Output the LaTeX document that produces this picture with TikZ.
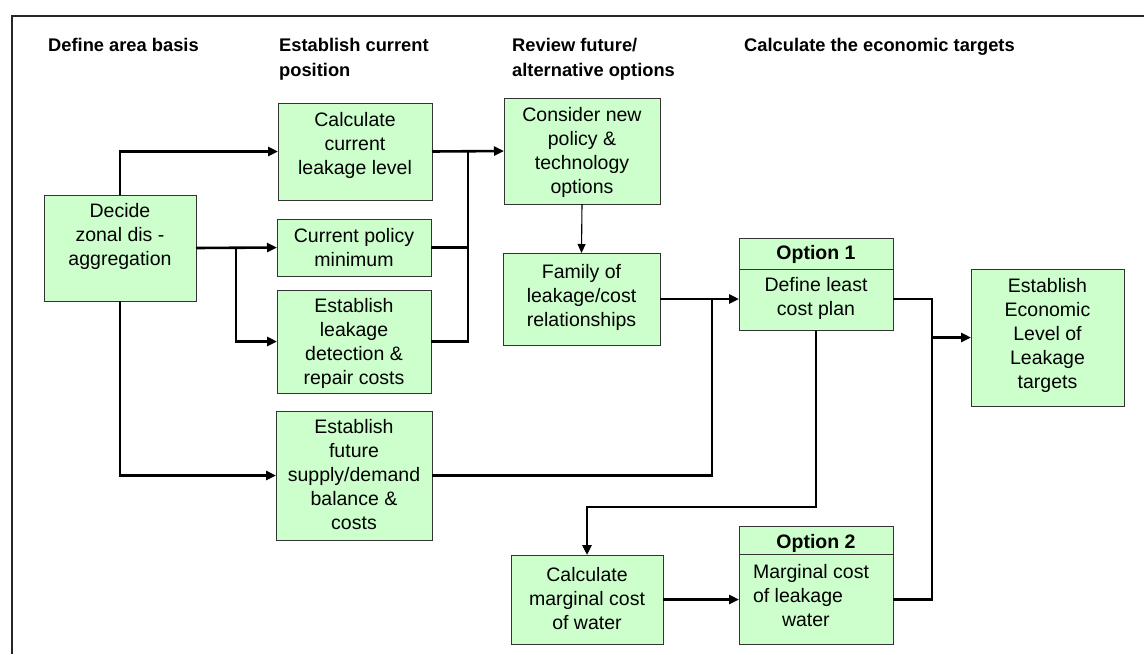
\documentclass[tikz,border=0pt]{standalone}
\usepackage{fontspec}
\setmainfont{Liberation Sans}
\usetikzlibrary{arrows.meta,calc}
\definecolor{boxfill}{HTML}{CCFFCC}
\definecolor{boxline}{HTML}{333333}
\newcommand{\bt}[4]{\parbox[c][#2pt][t]{#1pt}{\vspace*{#3pt}\centering #4}}
\tikzset{
  box/.style={draw=boxline, fill=boxfill, line width=1pt, inner sep=0pt, outer sep=0pt,
    font=\fontsize{19.5}{24}\selectfont},
  hdr/.style={inner sep=0pt, align=left, anchor=north west,
    font=\bfseries\fontsize{18.3}{25}\selectfont},
  wire/.style={line width=2.6pt, black},
  conn/.style={wire, -{Triangle[length=10pt,width=9pt]}},
  thinconn/.style={line width=1.1pt, black, -{Triangle[length=9pt,width=8pt]}},
  divider/.style={draw=boxline, line width=1pt}
}
\begin{document}
\begin{tikzpicture}[x=1pt,y=-1pt]
\useasboundingbox (0,0) rectangle (1144,654);
% frame
\draw[line width=1.3pt, black!85] (12,654) -- (12,16) -- (1144,16);

% headers
\node[hdr] (h1) at (48,38) {Define area basis};
\node[hdr] (h2) at (279,38) {Establish current\\position};
\node[hdr] (h3) at (512,38) {Review future/\\alternative options};
\node[hdr] (h4) at (744,38) {Calculate the economic targets};

% boxes
\node[box] (decide) at (120,248) {\bt{152}{106}{8}{Decide\\zonal dis -\\aggregation}};
\node[box] (calc) at (355,151.5) {\bt{154}{97}{9}{Calculate\\current\\leakage level}};
\node[box] (policy) at (354,247.5) {\bt{154}{57}{9}{Current policy\\minimum}};
\node[box] (detect) at (354,341.5) {\bt{154}{103}{8}{Establish\\leakage\\detection \&\\repair costs}};
\node[box] (future) at (354,475.5) {\bt{156}{129}{8}{Establish\\future\\supply/demand\\balance \&\\costs}};
\node[box] (consider) at (582,151) {\bt{156}{106}{9}{Consider new\\policy \&\\technology\\options}};
\node[box] (family) at (581.5,299) {\bt{157}{92}{11}{Family of\\leakage/cost\\relationships}};
\node[box] (opt1) at (816,284) {\parbox[c][92pt][t]{154pt}{\vspace*{7pt}\centering\textbf{Option 1}\par\vspace{8pt}Define least\\cost plan}};
\node[box] (ell) at (1047.5,337.5) {\bt{153}{137}{9}{Establish\\Economic\\Level of\\Leakage\\targets}};
\node[box] (calcmarg) at (587,599.5) {\bt{152}{89}{12}{Calculate\\marginal cost\\of water}};
\node[box] (opt2) at (816,585) {\parbox[c][118pt][t]{154pt}{\vspace*{8pt}\centering\textbf{Option 2}\par\vspace{6pt}\raggedright\leftskip=14pt Marginal cost\\of leakage\\\hspace*{29pt}water}};

% dividers in option boxes
\draw[divider] ([yshift=-31pt]opt1.north west) -- ([yshift=-31pt]opt1.north east);
\draw[divider] ([yshift=-28pt]opt2.north west) -- ([yshift=-28pt]opt2.north east);

% connectors from Decide
\draw[conn] (decide.north) |- (calc.west);
\draw[conn] (decide.east) -- (policy.west);
\draw[conn] ([xshift=40pt]decide.east) |- (detect.west);
\draw[conn] (decide.south) |- (future.west);

% merge into Consider
\coordinate (m) at ([xshift=36pt]calc.east);
\draw[wire] (policy.east) -| (m);
\draw[wire] (detect.east) -| (m);
\draw[conn] (calc.east) -- (consider.west);

% Consider -> Family
\draw[thinconn] (consider.south) -- (family.north);

% Family / Future -> Option 1
\coordinate (f) at ([xshift=52pt]family.east);
\draw[conn] (family.east) -- (family.east -| opt1.west);
\draw[wire] (future.east) -| (f);

% Option 1 -> Calculate marginal cost
\draw[conn] (opt1.south) -- ++(0,177) -| (calcmarg.north);

% Calculate marginal -> Option 2
\draw[conn] (calcmarg.east) -- (calcmarg.east -| opt2.west);

% Options -> ELL
\coordinate (j) at ([xshift=-39pt]ell.west);
\draw[wire] (family.east -| opt1.east) -| (j);
\draw[wire] (calcmarg.east -| opt2.east) -| (j);
\draw[conn] (j) -- (ell.west);
\end{tikzpicture}
\end{document}
